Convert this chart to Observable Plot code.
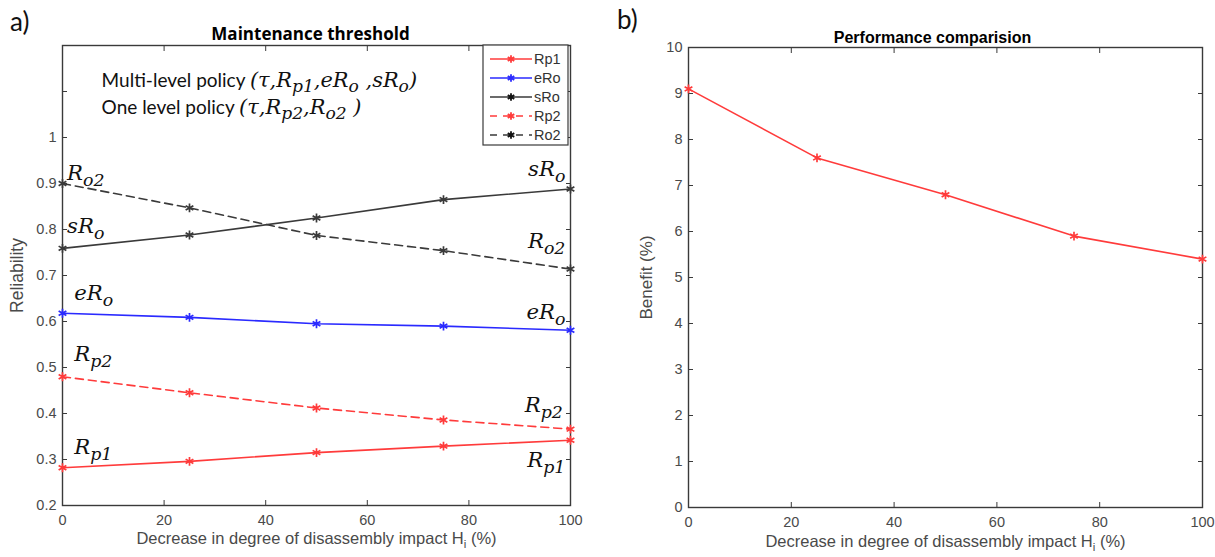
<!DOCTYPE html>
<html><head><meta charset="utf-8">
<script src="https://cdn.jsdelivr.net/npm/d3@7"></script>
<script src="https://cdn.jsdelivr.net/npm/@observablehq/plot@0.6"></script>
<style>
body{margin:0;background:#fff;width:1215px;height:557px;overflow:hidden;position:relative;font-family:"Liberation Sans",Arial,sans-serif}
.panel{position:absolute;top:0}
.tag{position:absolute;font-family:Lato,"Open Sans",sans-serif;font-size:26px;line-height:1;color:#111}
</style></head><body>
<div class="tag" style="left:10px;top:8px">a)</div>
<div class="tag" style="left:617px;top:6px">b)</div>
<div id="a" class="panel" style="left:0;width:610px;height:557px"></div>
<div id="b" class="panel" style="left:610px;width:605px;height:557px"></div>
<script>
// ---- data ----
const hi = [0, 25, 50, 75, 100];
const rp1 = [0.282, 0.296, 0.315, 0.329, 0.342];
const ero = [0.618, 0.609, 0.595, 0.590, 0.581];
const sro = [0.759, 0.788, 0.825, 0.865, 0.888];
const rp2 = [0.480, 0.445, 0.412, 0.386, 0.366];
const ro2 = [0.900, 0.847, 0.787, 0.754, 0.714];
const benefit = [9.1, 7.6, 6.8, 5.9, 5.4];
const xTicks = [0, 20, 40, 60, 80, 100];
const yTicksA = [0.2, 0.3, 0.4, 0.5, 0.6, 0.7, 0.8, 0.9, 1, 1.1, 1.2];
const yTicksB = [0, 1, 2, 3, 4, 5, 6, 7, 8, 9, 10];
const seriesNames = ["Rp1", "eRo", "sRo", "Rp2", "Ro2"];
const seriesValues = [rp1, ero, sro, rp2, ro2];
const seriesColors = ["#ff3b3b", "#2a2aff", "#3a3a3a", "#ff3b3b", "#3a3a3a"];
const seriesDash = [null, null, null, "8,5", "8,5"];
const xLabel = "Decrease in degree of disassembly impact H_{i} (%)";
// annotation labels (data-space anchors)
const annLeft = [
  {x: 0.9, y: 0.922, t: "$R_{o2}$"},
  {x: 0.9, y: 0.806, t: "$sR_{o}$"},
  {x: 2.3, y: 0.660, t: "$eR_{o}$"},
  {x: 2.3, y: 0.528, t: "$R_{p2}$"},
  {x: 2.3, y: 0.326, t: "$R_{p1}$"}
];
const annRight = [
  {x: 99, y: 0.930, t: "$sR_{o}$"},
  {x: 99, y: 0.773, t: "$R_{o2}$"},
  {x: 99, y: 0.619, t: "$eR_{o}$"},
  {x: 98.5, y: 0.418, t: "$R_{p2}$"},
  {x: 99, y: 0.297, t: "$R_{p1}$"}
];
const policyText = [
  {x: 7.7, y: 1.124, t: "Multi-level policy $(τ,R_{p1},eR_{o} ,sR_{o})$"},
  {x: 7.7, y: 1.065, t: "One level policy $(τ,R_{p2},R_{o2} )$"}
];

const rows = seriesNames.flatMap((s, k) => hi.map((h, i) => ({s, k, h, v: seriesValues[k][i]})));
const axisColor = "#3a3a3a", labelColor = "#4a4a4a";

function axes(yTicks, yFmt) {
  return [
    Plot.axisX({anchor: "bottom", ticks: xTicks, tickSize: 0, tickPadding: 9, fill: labelColor, fontSize: 14.5, label: null}),
    Plot.axisX({anchor: "bottom", ticks: xTicks, tickSize: -5, tickFormat: () => "", stroke: axisColor, label: null}),
    Plot.axisX({anchor: "top", ticks: xTicks, tickSize: -5, tickFormat: () => "", stroke: axisColor, label: null}),
    Plot.axisY({anchor: "left", ticks: yTicks, tickSize: 0, tickPadding: 6, tickFormat: yFmt, fill: labelColor, fontSize: 14.5, label: null}),
    Plot.axisY({anchor: "left", ticks: yTicks, tickSize: -5, tickFormat: () => "", stroke: axisColor, label: null}),
    Plot.axisY({anchor: "right", ticks: yTicks, tickSize: -5, tickFormat: () => "", stroke: axisColor, label: null}),
    Plot.frame({stroke: axisColor, strokeWidth: 1.4}),
  ];
}

// ---- panel a ----
const marksA = [];
seriesNames.forEach((s, k) => {
  const d = rows.filter(r => r.k === k);
  marksA.push(Plot.line(d, {x: "h", y: "v", stroke: seriesColors[k], strokeWidth: 1.6, strokeDasharray: seriesDash[k]}));
  marksA.push(Plot.dot(d, {x: "h", y: "v", stroke: seriesColors[k], symbol: "asterisk", r: 4.2, strokeWidth: 1.7}));
});
const plotA = Plot.plot({
  width: 610, height: 557,
  marginLeft: 62, marginRight: 40, marginTop: 45, marginBottom: 52,
  style: {fontFamily: "Liberation Sans, Arial, sans-serif", fontSize: "14px", background: "transparent"},
  x: {domain: [0, 100]},
  y: {domain: [0.2, 1.2]},
  marks: [
    ...axes(yTicksA, d => d > 1.01 ? "" : (d === 1 ? "1" : d.toFixed(1))),
    ...marksA,
    Plot.text(annLeft, {x: "x", y: "y", text: "t", textAnchor: "start", fontSize: 20, fill: "#111"}),
    Plot.text(annRight, {x: "x", y: "y", text: "t", textAnchor: "end", fontSize: 20, fill: "#111"}),
    Plot.text(policyText, {x: "x", y: "y", text: "t", textAnchor: "start", fontSize: 19, fill: "#111", fontFamily: "Lato, sans-serif"}),
    Plot.text(["Maintenance threshold"], {frameAnchor: "top", dx: -6, dy: -18, fontWeight: "bold", fontSize: 17, fill: "#000", fontFamily: "Open Sans, sans-serif"}),
    Plot.text(["Reliability"], {frameAnchor: "left", textAnchor: "middle", dx: -45, rotate: -90, fontSize: 17.5, fill: labelColor}),
    Plot.text([xLabel], {frameAnchor: "bottom", textAnchor: "middle", dy: 38, fontSize: 16.5, fill: labelColor}),
  ]
});
document.getElementById("a").appendChild(plotA);

// ---- panel b ----
const rowsB = hi.map((h, i) => ({h, v: benefit[i]}));
const plotB = Plot.plot({
  width: 605, height: 557,
  marginLeft: 78, marginRight: 13, marginTop: 47, marginBottom: 50,
  style: {fontFamily: "Liberation Sans, Arial, sans-serif", fontSize: "14px", background: "transparent"},
  x: {domain: [0, 100]},
  y: {domain: [0, 10]},
  marks: [
    ...axes(yTicksB, d => String(d)),
    Plot.line(rowsB, {x: "h", y: "v", stroke: "#ff3b3b", strokeWidth: 1.6}),
    Plot.dot(rowsB, {x: "h", y: "v", stroke: "#ff3b3b", symbol: "asterisk", r: 4.2, strokeWidth: 1.7}),
    Plot.text(["Performance comparision"], {frameAnchor: "top", dx: -13, dy: -16, fontWeight: "bold", fontSize: 16, fill: "#000"}),
    Plot.text(["Benefit (%)"], {frameAnchor: "left", textAnchor: "middle", dx: -42, rotate: -90, fontSize: 17, fill: labelColor}),
    Plot.text([xLabel], {frameAnchor: "bottom", textAnchor: "middle", dy: 39, fontSize: 16.5, fill: labelColor}),
  ]
});
document.getElementById("b").appendChild(plotB);

// ---- rich text: $..$ = math italic serif, _{..} = subscript ----
function richify(svg) {
  d3.select(svg).selectAll("text").each(function() {
    const t = this.textContent;
    if (!t.includes("$") && !t.includes("_{")) return;
    const base = parseFloat(getComputedStyle(this).fontSize) || 14;
    const sel = d3.select(this);
    sel.text(null);
    const parts = t.split("$");
    const mixed = parts.length > 1 && parts[0].length > 0;
    let shifted = 0;
    parts.forEach((p, idx) => {
      const math = idx % 2 === 1;
      const re = /_\{([^}]*)\}|([^_]+)/g;
      let m;
      while ((m = re.exec(p))) {
        const ts = sel.append("tspan");
        const fs = math ? base * (mixed ? 1.1 : 1.06) : base;
        if (math) ts.attr("font-family", "DejaVu Serif, serif").attr("font-style", "italic").attr("font-size", fs);
        if (m[1] !== undefined) {
          const sh = base * 0.3;
          ts.text(m[1]).attr("font-size", fs * (math ? 0.82 : 0.7)).attr("dy", sh - shifted);
          shifted = sh;
        } else {
          ts.text(m[2]);
          if (shifted) { ts.attr("dy", -shifted); shifted = 0; }
        }
      }
    });
  });
}
richify(plotA); richify(plotB);

// ---- legend (panel a) ----
const lg = d3.select("#a").append("svg").attr("width", 610).attr("height", 557)
  .style("position", "absolute").style("left", 0).style("top", 0);
lg.append("rect").attr("x", 483).attr("y", 45).attr("width", 85).attr("height", 100)
  .attr("fill", "#fff").attr("stroke", axisColor).attr("stroke-width", 1.2);
seriesNames.forEach((s, k) => {
  const y = 59 + k * 19;
  lg.append("line").attr("x1", 490).attr("x2", 532).attr("y1", y).attr("y2", y)
    .attr("stroke", seriesColors[k]).attr("stroke-width", 1.6).attr("stroke-dasharray", seriesDash[k] ? "7,6" : null);
  lg.append("path").attr("d", d3.symbol(d3.symbolAsterisk, 40)()).attr("transform", `translate(511,${y})`)
    .attr("stroke", k === 2 || k === 4 ? "#111" : seriesColors[k]).attr("stroke-width", 1.8).attr("fill", "none");
  lg.append("text").attr("x", 534).attr("y", y).attr("dy", "0.35em").attr("font-size", 14.5)
    .attr("font-family", "Liberation Sans, Arial, sans-serif").attr("fill", "#333").text(s);
});
</script>
</body></html>
